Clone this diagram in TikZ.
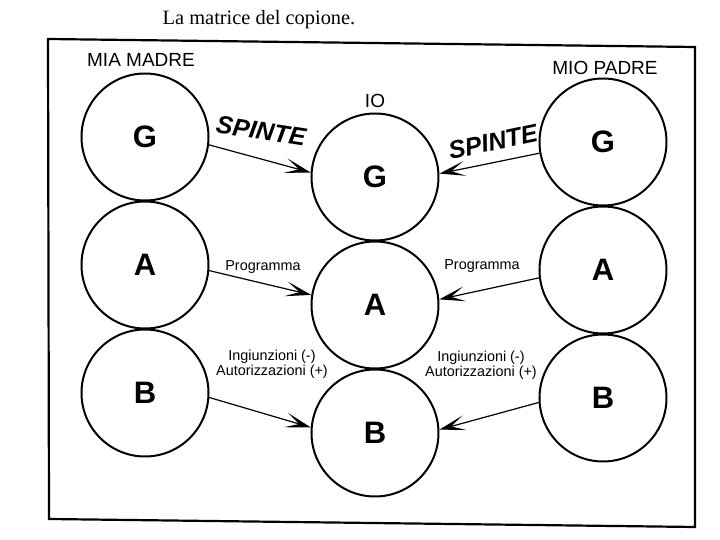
\documentclass[tikz,border=0pt]{standalone}
\usepackage{fontspec}
\setmainfont{Liberation Serif}
\setsansfont{Liberation Sans}
\usetikzlibrary{arrows.meta}

\begin{document}
\begin{tikzpicture}[x=0.5pt, y=-0.5pt,
      ego/.style={draw, line width=1pt, circle, minimum size=63.5pt, inner sep=0pt,
                  font=\sffamily\bfseries\fontsize{15.5}{15.5}\selectfont},
      push/.style={-{Stealth[length=13pt, width=7.5pt, inset=7pt]}, line width=0.6pt},
      who/.style={font=\sffamily\fontsize{9.5}{10}\selectfont},
      tag/.style={font=\sffamily\fontsize{7.2}{7.6}\selectfont, align=center},
      scrawl/.style={font=\sffamily\bfseries\itshape\fontsize{12.5}{12.5}\selectfont}]
      \useasboundingbox (0,0) rectangle (720,540);

      % Title and frame
      \node[font=\fontsize{10.2}{12}\selectfont] (title) at (259,20) {La matrice del copione.};
      \draw[line width=1.1pt] (48,39) -- (695,47) -- (695,527) -- (49,519) -- cycle;

      % Mother
      \node[who] (madre) at (141,60) {MIA MADRE};
      \node[ego] (mg) at (145,137) {G};
      \node[ego] (ma) at (145,265) {A};
      \node[ego] (mb) at (145,393) {B};

      % Me
      \node[who] (io) at (375,101) {IO};
      \node[ego] (ig) at (375,177) {G};
      \node[ego] (ia) at (375,305) {A};
      \node[ego] (ib) at (375,433) {B};

      % Father
      \node[who] (padre) at (605,68) {MIO PADRE};
      \node[ego] (pg) at (603,142) {G};
      \node[ego] (pa) at (603,270) {A};
      \node[ego] (pb) at (603,398) {B};

      % Arrows
      \draw[push] (mg.-7) -- (ig.176);
      \draw[push] (ma.-5) -- (ia.171);
      \draw[push] (mb.-4) -- (ib.175);
      \draw[push] (pg.190) -- (ig.3);
      \draw[push] (pa.187) -- (ia.5);
      \draw[push] (pb.184) -- (ib.3);

      % Labels
      \node[scrawl, rotate=-9] (spl) at (261,131) {SPINTE};
      \node[scrawl, rotate=12] (spr) at (493,142) {SPINTE};
      \node[tag] (prl) at (263,267) {Programma};
      \node[tag] (prr) at (482,266) {Programma};
      \node[tag] (inl) at (272,364) {Ingiunzioni (-)\\Autorizzazioni (+)};
      \node[tag] (inr) at (481,365) {Ingiunzioni (-)\\Autorizzazioni (+)};
    \end{tikzpicture}
\end{document}
